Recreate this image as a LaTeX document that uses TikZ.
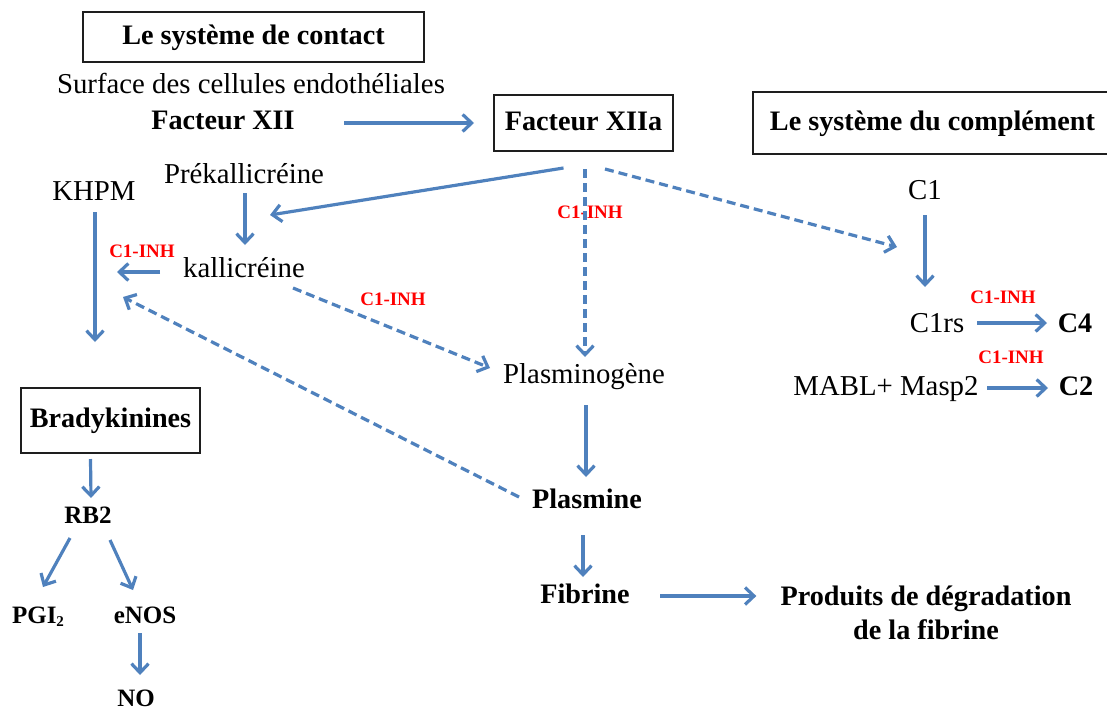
\documentclass[tikz,border=0pt]{standalone}
\usepackage{fontspec}
\setmainfont{Liberation Serif}
\usetikzlibrary{arrows.meta,calc}
\definecolor{lineblue}{RGB}{79,129,189}
\definecolor{inhred}{RGB}{255,0,0}
\definecolor{boxline}{RGB}{30,30,30}
\tikzset{
  arr/.style={draw=lineblue, line width=3.2pt, -{Straight Barb[length=9pt,width=17pt]}},
  darr/.style={arr, dash pattern=on 9pt off 5pt},
  txt/.style={inner sep=0pt, anchor=base, font=\fontsize{28.8}{32}\selectfont},
  btxt/.style={inner sep=0pt, anchor=base, font=\fontsize{28.2}{32}\selectfont\bfseries},
  stxt/.style={inner sep=0pt, anchor=base, font=\fontsize{25}{28}\selectfont\bfseries},
  inh/.style={inner sep=0pt, anchor=base, text=inhred, font=\fontsize{19}{21}\selectfont\bfseries},
  titlebox/.style={draw=boxline, line width=2pt, inner sep=0pt, text height=20pt, text depth=6pt, font=\fontsize{28.2}{32}\selectfont\bfseries},
}
\begin{document}
\begin{tikzpicture}[x=1pt,y=-1pt]
\useasboundingbox (0,0) rectangle (1107,710);
% boxes
\node[titlebox, minimum width=341pt, minimum height=50pt] (contact) at (253.5,37) {Le système de contact};
\node[titlebox, minimum width=179pt, minimum height=56pt] (fxiia) at (583.5,123) {Facteur XIIa};
\node[titlebox, minimum width=359pt, minimum height=62pt] (compl) at (932.5,123) {Le système du complément};
\node[titlebox, minimum width=179pt, minimum height=65pt] (brady) at (110.5,420.5) {Bradykinines};
% texts
\node[txt] (surface) at (251,93) {Surface des cellules endothéliales};
\node[btxt] (fxii) at (223,129) {Facteur XII};
\node[txt] (prek) at (244,183) {Prékallicréine};
\node[txt] (khpm) at (94,200) {KHPM};
\node[txt] (kall) at (244,277) {kallicréine};
\node[inh] (inha) at (142,257) {C1-INH};
\node[inh] (inhb) at (590,218) {C1-INH};
\node[inh] (inhc) at (393,305) {C1-INH};
\node[txt] (plgn) at (584,383) {Plasminogène};
\node[btxt] (plasmine) at (587,508) {Plasmine};
\node[btxt] (fibrine) at (585,603) {Fibrine};
\node[inner sep=0pt, align=center, font=\fontsize{28.2}{34}\selectfont\bfseries] (prod) at (926,613) {Produits de dégradation\\de la fibrine};
\node[txt] (c1) at (925,199) {C1};
\node[txt] (c1rs) at (937,332) {C1rs};
\node[btxt] (c4) at (1075,332) {C4};
\node[inh] (inhd) at (1003,303) {C1-INH};
\node[inh] (inhe) at (1011,363) {C1-INH};
\node[txt] (masp) at (886,395) {MABL+ Masp2};
\node[btxt] (c2) at (1076,395) {C2};
\node[stxt] (rb2) at (88,523) {RB2};
\node[stxt] (pgi) at (38,623) {PGI\raisebox{-3pt}{\fontsize{15}{16}\selectfont 2}};
\node[stxt] (enos) at (145,623) {eNOS};
\node[stxt] (no) at (136,706) {NO};
% connectors
\draw[arr] ($(fxii.base)+(121,-6)$) -- ($(fxiia.west)+(-19,0)$);
\draw[arr] ($(fxiia.south)+(-20,16)$) -- ($(kall.base)+(26,-62)$);
\draw[darr] ($(fxiia.south)+(1.5,17)$) -- ($(plgn.base)+(1,-26)$);
\draw[darr] ($(fxiia.south)+(21.5,17)$) -- ($(c1.base)+(-28,48)$);
\draw[arr] ($(prek.base)+(1,10)$) -- ($(kall.base)+(1,-32)$);
\draw[arr] ($(kall.base)+(-84,-5)$) -- ($(kall.base)+(-127,-5)$);
\draw[arr] ($(khpm.base)+(1,12)$) -- ($(khpm.base)+(1,142)$);
\draw[darr] ($(kall.base)+(49,11)$) -- ($(plgn.base)+(-94,-15)$);
\draw[darr] ($(plasmine.base)+(-68,-11)$) -- ($(kall.base)+(-121,20)$);
\draw[arr] ($(plgn.base)+(2,22)$) -- ($(plasmine.base)+(-1,-31)$);
\draw[arr] ($(plasmine.base)+(-4,27)$) -- ($(fibrine.base)+(-2,-26)$);
\draw[arr] ($(fibrine.base)+(75,-7)$) -- ($(prod.west)+(-24,-17)$);
\draw[arr] ($(c1.base)+(0,16)$) -- ($(c1rs.base)+(-12,-45)$);
\draw[arr] ($(c1rs.base)+(40,-9)$) -- ($(c4.base)+(-28,-9)$);
\draw[arr] ($(masp.base)+(101,-7)$) -- ($(c2.base)+(-28,-7)$);
\draw[arr] ($(brady.south)+(-20,5)$) -- ($(rb2.base)+(3,-25)$);
\draw[arr] ($(rb2.base)+(-18,15)$) -- ($(pgi.base)+(5,-36)$);
\draw[arr] ($(rb2.base)+(22,17)$) -- ($(enos.base)+(-12,-33)$);
\draw[arr] ($(enos.base)+(-5,10)$) -- ($(no.base)+(4,-31)$);
\end{tikzpicture}
\end{document}
